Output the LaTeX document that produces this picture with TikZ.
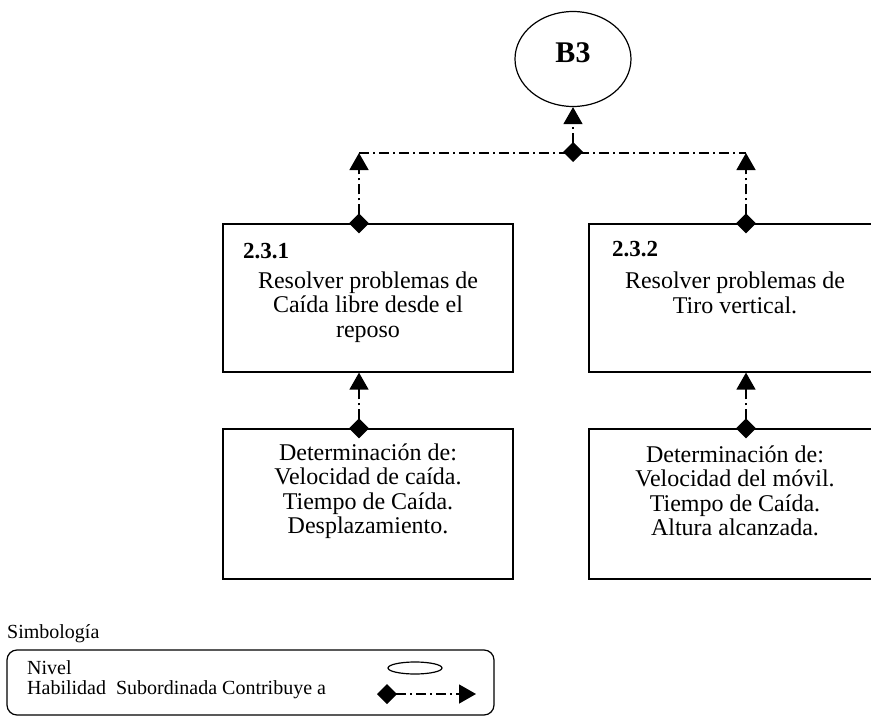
\documentclass[tikz,border=0pt]{standalone}
\usepackage{fontspec}
\setmainfont{Liberation Serif}
\usetikzlibrary{arrows.meta,shapes.geometric,positioning}
\tikzstyle{caja}=[draw,line width=1.2pt,minimum width=290pt,inner sep=0pt]
\tikzstyle{texto}=[align=center,inner sep=0pt,font=\fontsize{24}{24.5}\selectfont]
\tikzstyle{codigo}=[anchor=west,inner sep=0pt,font=\bfseries\fontsize{23}{23}\selectfont]
\tikzstyle{linea}=[line width=1.4pt,dash pattern=on 10pt off 4pt on 2pt off 4pt]
\tikzstyle{enlace}=[linea,arrows={Diamond[length=20pt,width=20pt]-Triangle[length=17pt,width=19pt]},shorten <=-10pt]

\begin{document}
\begin{tikzpicture}[x=1pt,y=-1pt]
	\useasboundingbox (0,0) rectangle (871,717);
	\clip (0,0) rectangle (871,717);
	\node[draw,ellipse,line width=1.2pt,minimum width=116pt,minimum height=95pt] (b3) at (573,59) {};
	\node[font=\bfseries\fontsize{30}{30}\selectfont,inner sep=0pt] (b3t) at (573,53) {B3};
	\node[caja,minimum height=148pt] (h1) at (368,298) {};
	\node[caja,minimum height=148pt] (h2) at (734,298) {};
	\node[caja,minimum height=150pt] (d1) at (368,504) {};
	\node[caja,minimum height=150pt] (d2) at (734,504) {};
	\node[codigo] (c1) at (243,251) {2.3.1};
	\node[codigo] (c2) at (612,249) {2.3.2};
	\node[texto] (t1) at (368,307) {Resolver problemas de\\Caída libre desde el\\reposo};
	\node[texto] (t2) at (735,293) {Resolver problemas de\\Tiro vertical.};
	\node[texto] (t3) at (368,491) {Determinación de:\\Velocidad de caída.\\Tiempo de Caída.\\Desplazamiento.};
	\node[texto] (t4) at (735,491) {Determinación de:\\Velocidad del móvil.\\Tiempo de Caída.\\Altura alcanzada.};
	\coordinate (j0) at (573,152);
	\coordinate (j1) at (359,153);
	\coordinate (j2) at (746,153);
	\draw [linea] (j1) -- (j2);
	\draw [enlace] (j0) -- (b3.south);
	\draw [enlace] (j1 |- h1.north) -- (j1);
	\draw [enlace] (j2 |- h2.north) -- (j2);
	\draw [enlace] (j1 |- d1.north) -- (j1 |- h1.south);
	\draw [enlace] (j2 |- d2.north) -- (j2 |- h2.south);
	\node[anchor=west,inner sep=0pt,font=\fontsize{20}{20}\selectfont] (simb) at (7,634) {Simbología};
	\node[draw,line width=1.2pt,rounded corners=10pt,minimum width=487pt,minimum height=65pt,inner sep=0pt] (ley) at (250.5,682.5) {};
	\node[anchor=west,inner sep=0pt,font=\fontsize{20}{20}\selectfont] (niv) at (27,668) {Nivel};
	\node[anchor=west,inner sep=0pt,font=\fontsize{20}{20}\selectfont] (hab) at (27,690) {Habilidad~ Subordinada Contribuye a};
	\node[draw,ellipse,line width=1.2pt,minimum width=54pt,minimum height=12pt,inner sep=0pt] (eli) at (415,668) {};
	\coordinate (l1) at (387,694);
	\coordinate (l2) at (476,694);
	\draw [enlace] (l1) -- (l2);
\end{tikzpicture}
\end{document}
